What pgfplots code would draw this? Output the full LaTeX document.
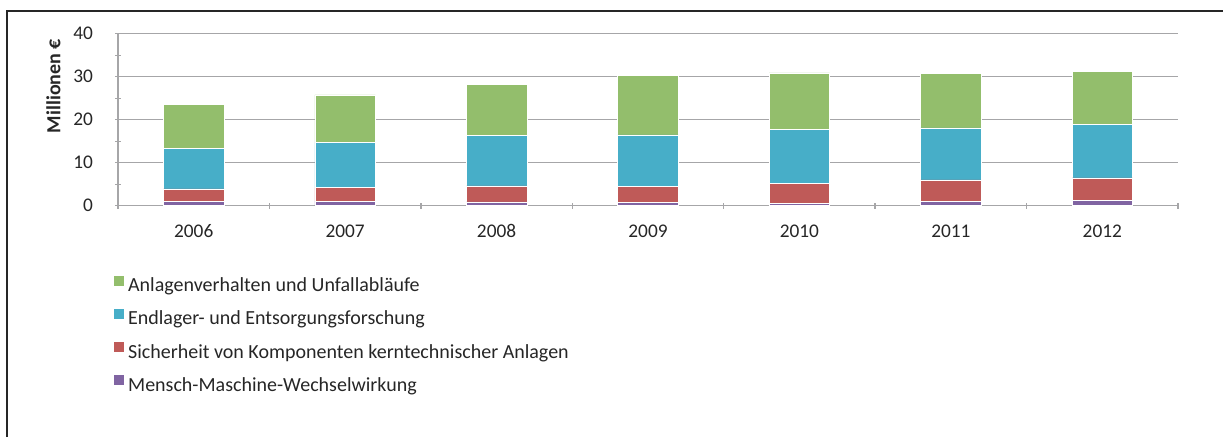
\documentclass[border=0pt]{standalone}
\usepackage{pgfplots}
\pgfplotsset{compat=1.18}
\usepackage{fontspec}
\setmainfont{Carlito}
\definecolor{cgreen}{HTML}{93BE6C}
\definecolor{cblue}{HTML}{47AEC8}
\definecolor{cred}{HTML}{BF5A58}
\definecolor{cpurple}{HTML}{8064A2}
\definecolor{gridgray}{HTML}{A6A6A8}
\definecolor{frame}{HTML}{262626}
\begin{document}
\begin{tikzpicture}
\useasboundingbox (0,0) rectangle (917.25pt,-327.75pt);
\draw[frame, line width=1.5pt] (5.25pt,-327.75pt) -- (5.25pt,-8pt) -- (917.25pt,-8pt);
\begin{axis}[
  at={(88.5pt,-154.3pt)}, anchor=south west,
  scale only axis, width=795pt, height=129pt,
  ybar stacked, bar width=0.4,
  xmin=-0.5, xmax=6.5, ymin=0, ymax=40,
  xtick={0,...,6},
  xticklabels={2006,2007,2008,2009,2010,2011,2012},
  major x tick style={draw=none},
  minor xtick={-0.5,0.5,...,6.5},
  ytick={0,10,...,40},
  minor ytick={5,15,25,35},
  tick align=outside,
  major tick length=4.5pt, minor tick length=4.5pt,
  every tick/.style={gridgray, line width=1pt},
  axis x line=bottom, axis y line=left,
  axis line style={gridgray, line width=1pt, -},
  ymajorgrids, major grid style={gridgray, line width=1pt},
  /pgf/number format/assume math mode=true,
  tick label style={font=\fontsize{14.5pt}{17pt}\selectfont, text=black!85},
  xticklabel style={yshift=-8.5pt},
  yticklabel style={xshift=-13pt},
  reverse legend,
  legend style={at={(-0.0047,-0.40)}, anchor=north west, draw=none, fill=none,
    font=\fontsize{15pt}{18pt}\selectfont, text=black!85,
    row sep=9.3pt, inner sep=0pt,
    nodes={inner sep=0pt, text height=10.5pt, text depth=3pt},
    cells={anchor=west}},
  legend image code/.code={\fill[#1] (0pt,0.4pt) rectangle (8.25pt,8.65pt);},
  every axis plot/.append style={draw=white, line width=0.4pt},
]
\addplot[fill=cpurple] coordinates {(0,1.0) (1,1.1) (2,0.9) (3,0.8) (4,0.5) (5,1.1) (6,1.3)};
\addplot[fill=cred] coordinates {(0,2.9) (1,3.1) (2,3.7) (3,3.7) (4,4.7) (5,4.9) (6,5.2)};
\addplot[fill=cblue] coordinates {(0,9.4) (1,10.5) (2,11.7) (3,12.0) (4,12.6) (5,12.1) (6,12.4)};
\addplot[fill=cgreen] coordinates {(0,10.3) (1,11.1) (2,12.0) (3,13.9) (4,13.1) (5,12.7) (6,12.4)};
\legend{\hspace{2.5pt}Mensch-Maschine-Wechselwirkung,\hspace{2.5pt}Sicherheit von Komponenten kerntechnischer Anlagen,\hspace{2.5pt}Endlager- und Entsorgungsforschung,\hspace{2.5pt}Anlagenverhalten und Unfallabläufe}
\end{axis}
\node[rotate=90, font=\bfseries\fontsize{15pt}{18pt}\selectfont, text=black!85] at (40.1pt,-64.5pt) {Millionen €};
\end{tikzpicture}
\end{document}
